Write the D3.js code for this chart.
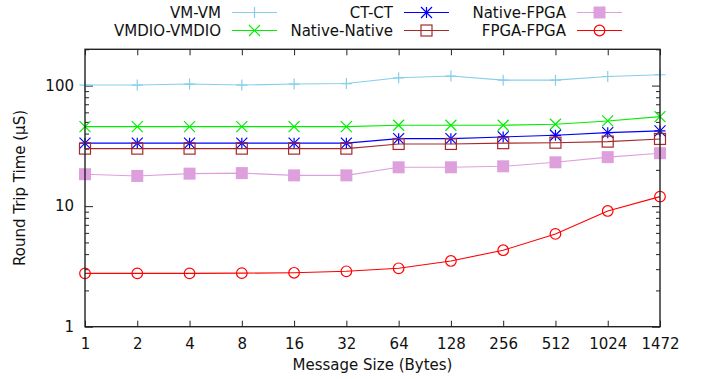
<!DOCTYPE html>
<html>
<head>
<meta charset="utf-8">
<script src="https://cdn.jsdelivr.net/npm/d3@7"></script>
<style>
  body { margin: 0; background: #fff; }
  svg text { font-family: "DejaVu Sans", sans-serif; font-size: 15px; fill: #111; }
</style>
</head>
<body>
<svg id="chart" width="704" height="379"></svg>
<script>
const sizes = ['1', '2', '4', '8', '16', '32', '64', '128', '256', '512', '1024', '1472'];

const vmVm = [101, 101, 103, 101, 103, 104, 116, 120, 111, 111, 119, 123];
const vmdio = [45.7, 45.7, 45.7, 45.7, 45.7, 45.7, 46.9, 46.9, 46.9, 47.8, 50.9, 55.3];
const ctCt = [33.3, 33.3, 33.3, 33.3, 33.3, 33.3, 36.3, 36.3, 37.5, 38.7, 40.7, 42.1];
const nativeNative = [30.0, 30.0, 30.0, 30.0, 30.0, 30.0, 32.8, 32.8, 33.3, 33.6, 34.3, 36.1];
const nativeFpga = [18.4, 17.8, 18.6, 18.8, 18.0, 18.0, 21.0, 21.0, 21.4, 23.1, 25.5, 27.5];
const fpgaFpga = [2.77, 2.77, 2.77, 2.78, 2.80, 2.88, 3.05, 3.51, 4.31, 5.88, 9.12, 12.0];

const yMajor = [1, 10, 100];
const yMinor = [2, 3, 4, 5, 6, 7, 8, 9, 20, 30, 40, 50, 60, 70, 80, 90, 200];

const series = [
  { name: 'VM-VM', values: vmVm, color: '#87ceeb', mark: 'plus' },
  { name: 'VMDIO-VMDIO', values: vmdio, color: '#00ee00', mark: 'cross' },
  { name: 'CT-CT', values: ctCt, color: '#0000ff', mark: 'star' },
  { name: 'Native-Native', values: nativeNative, color: '#a52a2a', mark: 'square' },
  { name: 'Native-FPGA', values: nativeFpga, color: '#dda0dd', mark: 'fillsquare' },
  { name: 'FPGA-FPGA', values: fpgaFpga, color: '#ff0000', mark: 'circle' }
];

const margin = { top: 49.3, right: 44, bottom: 52.3, left: 85 },
  width = 704 - margin.left - margin.right,
  height = 379 - margin.top - margin.bottom;

const svg = d3.select('#chart');
const g = svg.append('g').attr('transform', `translate(${margin.left},${margin.top})`);

const x = d3.scalePoint().domain(sizes).range([0, width]);
const y = d3.scaleLog().domain([1, 200]).range([height, 0]);

// markers, gnuplot-ish point types
const drawMark = (sel, type, color, cx, cy) => {
  const h = 5.5;
  if (type === 'plus' || type === 'star') {
    sel.append('path')
      .attr('d', `M${cx - h},${cy}H${cx + h}M${cx},${cy - h}V${cy + h}`)
      .attr('stroke', color).attr('stroke-width', 1.2).attr('fill', 'none');
  }
  if (type === 'cross' || type === 'star') {
    sel.append('path')
      .attr('d', `M${cx - h},${cy - h}L${cx + h},${cy + h}M${cx - h},${cy + h}L${cx + h},${cy - h}`)
      .attr('stroke', color).attr('stroke-width', 1.2).attr('fill', 'none');
  }
  if (type === 'square') {
    sel.append('rect')
      .attr('x', cx - h).attr('y', cy - h).attr('width', 2 * h).attr('height', 2 * h)
      .attr('stroke', color).attr('stroke-width', 1.2).attr('fill', 'none');
  }
  if (type === 'fillsquare') {
    sel.append('rect')
      .attr('x', cx - 6).attr('y', cy - 6).attr('width', 12).attr('height', 12)
      .attr('fill', color);
  }
  if (type === 'circle') {
    sel.append('circle')
      .attr('cx', cx).attr('cy', cy).attr('r', 5.3)
      .attr('stroke', color).attr('stroke-width', 1.2).attr('fill', 'none');
  }
};

// axes (ticks point inward, mirrored on top/right)
g.append('g')
  .attr('transform', `translate(0,${height})`)
  .call(d3.axisBottom(x).tickSizeInner(-6).tickSizeOuter(0).tickPadding(11.2));
g.append('g')
  .call(d3.axisTop(x).tickSizeInner(-6).tickSizeOuter(0).tickFormat(''));

g.append('g')
  .call(d3.axisLeft(y).tickValues(yMajor).tickFormat(d3.format('d')).tickSizeInner(-8).tickSizeOuter(0).tickPadding(11));
g.append('g')
  .call(d3.axisLeft(y).tickValues(yMinor).tickFormat('').tickSizeInner(-4).tickSizeOuter(0));
g.append('g')
  .attr('transform', `translate(${width},0)`)
  .call(d3.axisRight(y).tickValues(yMajor).tickFormat('').tickSizeInner(-8).tickSizeOuter(0));
g.append('g')
  .attr('transform', `translate(${width},0)`)
  .call(d3.axisRight(y).tickValues(yMinor).tickFormat('').tickSizeInner(-4).tickSizeOuter(0));

g.selectAll('.domain').remove();
g.selectAll('.tick line').attr('stroke', '#222').attr('stroke-width', 1);
g.selectAll('.tick text').attr('font-size', null).attr('font-family', null).attr('fill', '#111');

// series
const line = d3.line().x((d, i) => x(sizes[i])).y(d => y(d));
series.forEach(s => {
  g.append('path')
    .datum(s.values)
    .attr('d', line)
    .attr('fill', 'none')
    .attr('stroke', s.color)
    .attr('stroke-width', 1.1);
  const mg = g.append('g');
  s.values.forEach((v, i) => drawMark(mg, s.mark, s.color, x(sizes[i]), y(v)));
});

// frame
g.append('rect')
  .attr('width', width).attr('height', height)
  .attr('fill', 'none').attr('stroke', '#222').attr('stroke-width', 1.4);

// axis titles
svg.append('text')
  .attr('x', margin.left + width / 2).attr('y', 370)
  .attr('text-anchor', 'middle')
  .text('Message Size (Bytes)');
svg.append('text')
  .attr('transform', `translate(25,${margin.top + height / 2}) rotate(-90)`)
  .attr('text-anchor', 'middle')
  .text('Round Trip Time (µS)');

// legend: 3 columns x 2 rows, filled column by column
const legendCols = [221, 393, 566];
const legendRows = [12.5, 30.5];
series.forEach((s, i) => {
  const tx = legendCols[Math.floor(i / 2)], ty = legendRows[i % 2];
  const lg = svg.append('g');
  lg.append('text')
    .attr('x', tx).attr('y', ty).attr('dy', '0.35em')
    .attr('text-anchor', 'end')
    .text(s.name);
  lg.append('line')
    .attr('x1', tx + 11).attr('x2', tx + 56)
    .attr('y1', ty).attr('y2', ty)
    .attr('stroke', s.color).attr('stroke-width', 1.1);
  drawMark(lg, s.mark, s.color, tx + 33.5, ty);
});
</script>
</body>
</html>
